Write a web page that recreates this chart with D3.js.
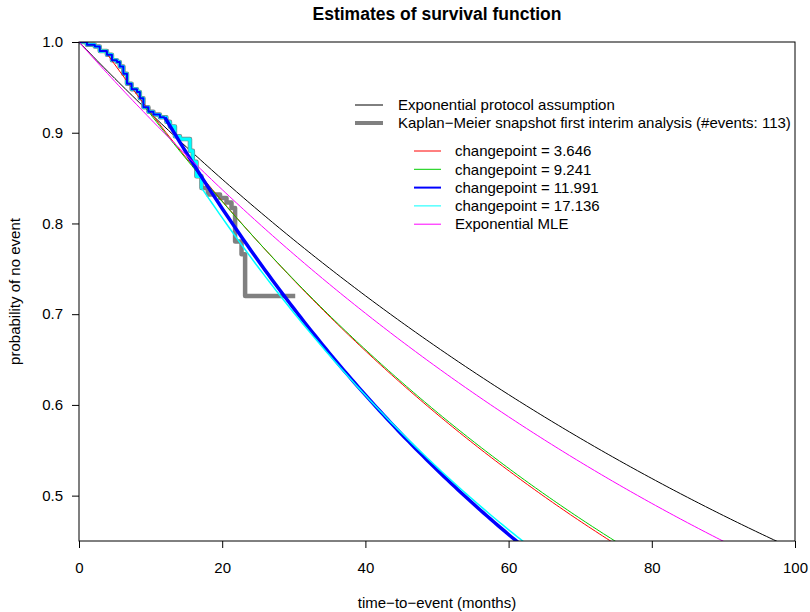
<!DOCTYPE html>
<html>
<head>
<meta charset="utf-8">
<script src="https://cdn.jsdelivr.net/npm/d3@7"></script>
<style>
  body { margin: 0; background: #fff; }
  svg text { font-family: "Liberation Sans", Arial, Helvetica, sans-serif; }
</style>
</head>
<body>
<svg id="chart"></svg>
<script>
// Kaplan-Meier snapshot (step points: time of drop, survival after drop)
const kmTime = [0, 1.1, 2.2, 2.9, 3.9, 4.6, 5.3, 5.7, 6.2, 6.7, 7.35, 8.1, 8.5, 9.0, 9.7,
                10.4, 11.3, 12.2, 12.7, 13.4, 14.1, 15.5, 15.9, 16.4, 17.1, 18.0, 19.7,
                20.6, 21.3, 21.8, 22.7, 23.2];
const kmSurv = [1.0, 0.997, 0.995, 0.990, 0.986, 0.980, 0.978, 0.973, 0.965, 0.954, 0.948,
                0.945, 0.938, 0.928, 0.923, 0.920, 0.917, 0.912, 0.907, 0.896, 0.893, 0.880,
                0.868, 0.852, 0.839, 0.832, 0.828, 0.823, 0.817, 0.780, 0.766, 0.720];
const kmEnd = 30.2;

// piecewise exponential: KM up to changepoint, exponential tail afterwards
const changepoints = [3.646, 9.241, 11.991, 17.136];
const tailRates = [0.01117, 0.01103, 0.01450, 0.01390];

// plain exponential models (hazard per month)
const protocolRate = 0.0082;
const mleRate = 0.00888;

const xTicks = [0, 20, 40, 60, 80, 100];
const yTicks = [0.5, 0.6, 0.7, 0.8, 0.9, 1.0];

const cpColors = ['#ff0000', '#00cd00', '#0000ff', '#00ffff'];

const W = 810, H = 612;
const margin = { top: 42, right: 15, bottom: 71, left: 79 };

const svg = d3.select('#chart').attr('width', W).attr('height', H);
svg.append('rect').attr('width', W).attr('height', H).attr('fill', '#fff');

const x = d3.scaleLinear().domain([0, 100]).range([margin.left, W - margin.right]);
const y = d3.scaleLinear().domain([0.45, 1.0]).range([H - margin.bottom, margin.top]);

svg.append('clipPath').attr('id', 'plotclip')
    .append('rect')
    .attr('x', margin.left).attr('y', margin.top)
    .attr('width', x(100) - x(0)).attr('height', y(0.45) - y(1.0));

const plot = svg.append('g').attr('clip-path', 'url(#plotclip)');

// step value of KM at time t
function kmAt(t) {
    const i = d3.bisectRight(kmTime, t) - 1;
    return kmSurv[Math.max(i, 0)];
}

// KM points up to time t (drawn as steps)
function kmHead(t) {
    const pts = [];
    kmTime.forEach((d, i) => { if (d <= t) pts.push([d, kmSurv[i]]); });
    pts.push([t, kmAt(t)]);
    return pts;
}

function expTail(t0, s0, rate) {
    return d3.range(t0, 100.5, 0.5).map(t => [t, s0 * Math.exp(-rate * (t - t0))]);
}

const lineLin = d3.line().x(d => x(d[0])).y(d => y(d[1]));
const lineStep = d3.line().x(d => x(d[0])).y(d => y(d[1])).curve(d3.curveStepAfter);

function drawPath(pts, gen, color, width) {
    plot.append('path')
        .datum(pts)
        .attr('d', gen)
        .attr('fill', 'none')
        .attr('stroke', color)
        .attr('stroke-width', width)
        .attr('stroke-linejoin', 'round');
}

// exponential protocol assumption
drawPath(expTail(0, 1, protocolRate), lineLin, '#000', 1);

// Kaplan-Meier snapshot
drawPath(kmHead(kmEnd), lineStep, '#808080', 4.5);

// changepoint models
const cpWidthHead = [1, 1, 2, 3.2];
const cpWidthTail = [1, 1, 3.5, 1.5];
// cyan head sits underneath the others
drawPath(kmHead(changepoints[3]), lineStep, cpColors[3], cpWidthHead[3]);
changepoints.forEach((cp, i) => {
    if (i !== 3) drawPath(kmHead(cp), lineStep, cpColors[i], cpWidthHead[i]);
    drawPath(expTail(cp, kmAt(cp), tailRates[i]), lineLin, cpColors[i], cpWidthTail[i]);
});

// exponential MLE
drawPath(expTail(0, 1, mleRate), lineLin, '#ff00ff', 1);

// axes
const xAxis = svg.append('g')
    .attr('transform', `translate(0,${y(0.45)})`)
    .call(d3.axisBottom(x).tickValues(xTicks).tickSize(7).tickPadding(14).tickFormat(d3.format('d')));
const yAxis = svg.append('g')
    .attr('transform', `translate(${x(0)},0)`)
    .call(d3.axisLeft(y).tickValues(yTicks).tickSize(7).tickPadding(9).tickFormat(d3.format('.1f')));
[xAxis, yAxis].forEach(a => {
    a.select('.domain').remove();
    a.selectAll('line').attr('stroke', '#000');
    a.selectAll('text').attr('font-size', 15).attr('fill', '#000')
        .attr('font-family', '"Liberation Sans", Arial, sans-serif');
});

// box
svg.append('rect')
    .attr('x', x(0)).attr('y', y(1.0))
    .attr('width', x(100) - x(0)).attr('height', y(0.45) - y(1.0))
    .attr('fill', 'none').attr('stroke', '#000').attr('stroke-width', 1);

// titles
svg.append('text')
    .attr('x', (x(0) + x(100)) / 2).attr('y', 20)
    .attr('text-anchor', 'middle').attr('font-size', 17.5).attr('font-weight', 'bold')
    .text('Estimates of survival function');
svg.append('text')
    .attr('x', (x(0) + x(100)) / 2).attr('y', 608)
    .attr('text-anchor', 'middle').attr('font-size', 15)
    .text('time\u2212to\u2212event (months)');
svg.append('text')
    .attr('transform', `translate(20,${(y(0.45) + y(1.0)) / 2}) rotate(-90)`)
    .attr('text-anchor', 'middle').attr('font-size', 15)
    .text('probability of no event');

// legends
const legend1 = [
    { label: 'Exponential protocol assumption', color: '#000', width: 1 },
    { label: 'Kaplan\u2212Meier snapshot first interim analysis (#events: 113)', color: '#808080', width: 4 }
];
const legend2 = changepoints.map((cp, i) => ({ label: `changepoint = ${cp}`, color: cpColors[i], width: i === 2 ? 2 : 1 }))
    .concat([{ label: 'Exponential MLE', color: '#ff00ff', width: 1 }]);

function drawLegend(items, x0, x1, tx, y0, step) {
    const g = svg.append('g');
    items.forEach((d, i) => {
        const yy = y0 + i * step;
        g.append('line').attr('x1', x0).attr('x2', x1).attr('y1', yy).attr('y2', yy)
            .attr('stroke', d.color).attr('stroke-width', d.width);
        g.append('text').attr('x', tx).attr('y', yy).attr('dy', '0.35em')
            .attr('font-size', 15).text(d.label);
    });
}
drawLegend(legend1, 355, 383, 398, 105, 18);
drawLegend(legend2, 414, 441, 455, 151, 18.3);
</script>
</body>
</html>
